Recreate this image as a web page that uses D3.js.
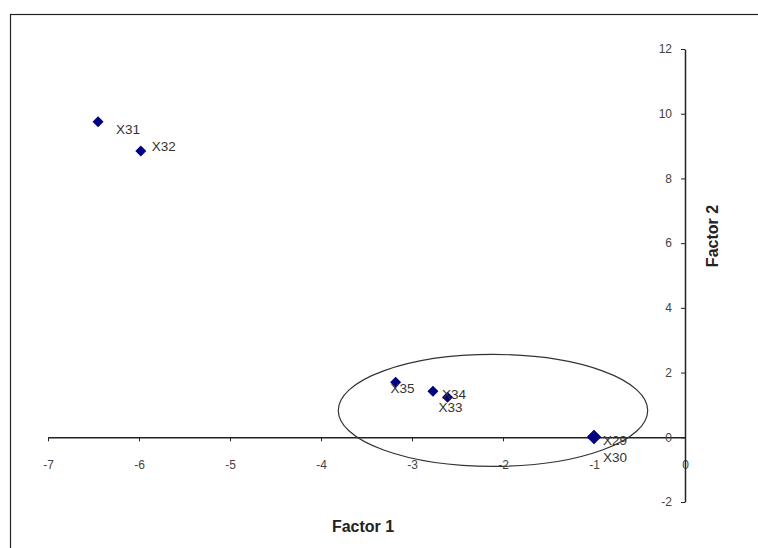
<!DOCTYPE html>
<html><head><meta charset="utf-8">
<script src="https://cdn.jsdelivr.net/npm/d3@7"></script>
<style>body{margin:0;background:#fff}svg{display:block}text{font-family:"Liberation Sans",Arial,sans-serif}</style>
</head><body>
<script>
const labels = ["X31","X32","X35","X34","X33","X29","X30"];
const factor1 = [-6.45,-5.98,-3.18,-2.77,-2.61,-1.0,-1.0];
const factor2 = [9.75,8.85,1.70,1.42,1.24,0.02,0.0];
const xTicks = [-7,-6,-5,-4,-3,-2,-1,0];
const yTicks = [-2,0,2,4,6,8,10,12];
const ellipse = {cx:-2.11, cy:0.83, rx:1.70, ry:1.73};

const W=758,H=548;
const svg=d3.select("body").append("svg").attr("width",W).attr("height",H);
svg.append("rect").attr("x",10.5).attr("y",14.5).attr("width",W).attr("height",H).attr("fill","none").attr("stroke","#222").attr("stroke-width",1.2);

const x=d3.scaleLinear().domain([-7,0]).range([48,685]);
const y=d3.scaleLinear().domain([-2,12]).range([502,49]);

const gx=svg.append("g").attr("transform",`translate(0,${y(0)})`)
  .call(d3.axisBottom(x).tickValues(xTicks).tickSize(4).tickSizeOuter(0).tickFormat(d=>d));
gx.select(".domain").attr("stroke","#222").attr("stroke-width",1.5);
gx.selectAll(".tick line").attr("stroke","#222");
gx.selectAll(".tick text").attr("font-size",12).attr("fill","#444").attr("dy","2.05em");

const gy=svg.append("g").attr("transform",`translate(${x(0)},0)`)
  .call(d3.axisLeft(y).tickValues(yTicks).tickSize(4).tickSizeOuter(0).tickFormat(d=>d));
gy.select(".domain").attr("stroke","#222").attr("stroke-width",1.5);
gy.selectAll(".tick text").attr("font-size",12).attr("fill","#444").attr("x",-13);
gy.selectAll(".tick line").attr("stroke","#222");

svg.append("ellipse")
  .attr("cx",x(ellipse.cx)).attr("cy",y(ellipse.cy))
  .attr("rx",x(ellipse.cx+ellipse.rx)-x(ellipse.cx))
  .attr("ry",y(ellipse.cy)-y(ellipse.cy+ellipse.ry))
  .attr("fill","none").attr("stroke","#333").attr("stroke-width",1.2);

const pts=labels.map((l,i)=>({l,a:factor1[i],b:factor2[i]}));
const off={X31:[18,7],X32:[11,-5],X35:[-5,6],X34:[9,3],X33:[-9,10],X29:[9,4],X30:[9,20]};
const big={X29:1,X30:1};
svg.append("g").selectAll("path").data(pts).join("path")
  .attr("transform",d=>`translate(${x(d.a)},${y(d.b)})`)
  .attr("d",d=>{const s=big[d.l]?7:5.5;return `M0,${-s}L${s},0L0,${s}L${-s},0Z`;})
  .attr("fill","#000080");
svg.append("g").selectAll("text").data(pts).join("text")
  .attr("x",d=>x(d.a)+off[d.l][0]).attr("y",d=>y(d.b)+off[d.l][1])
  .attr("dy","0.35em").attr("font-size",13.5).attr("fill","#333").text(d=>d.l);

svg.append("text").attr("x",363).attr("y",532).attr("text-anchor","middle")
  .attr("font-size",16).attr("font-weight","bold").attr("fill","#222").text("Factor 1");
svg.append("text").attr("transform","translate(718,236) rotate(-90)").attr("text-anchor","middle")
  .attr("font-size",16).attr("font-weight","bold").attr("fill","#222").text("Factor 2");
</script>
</body></html>
